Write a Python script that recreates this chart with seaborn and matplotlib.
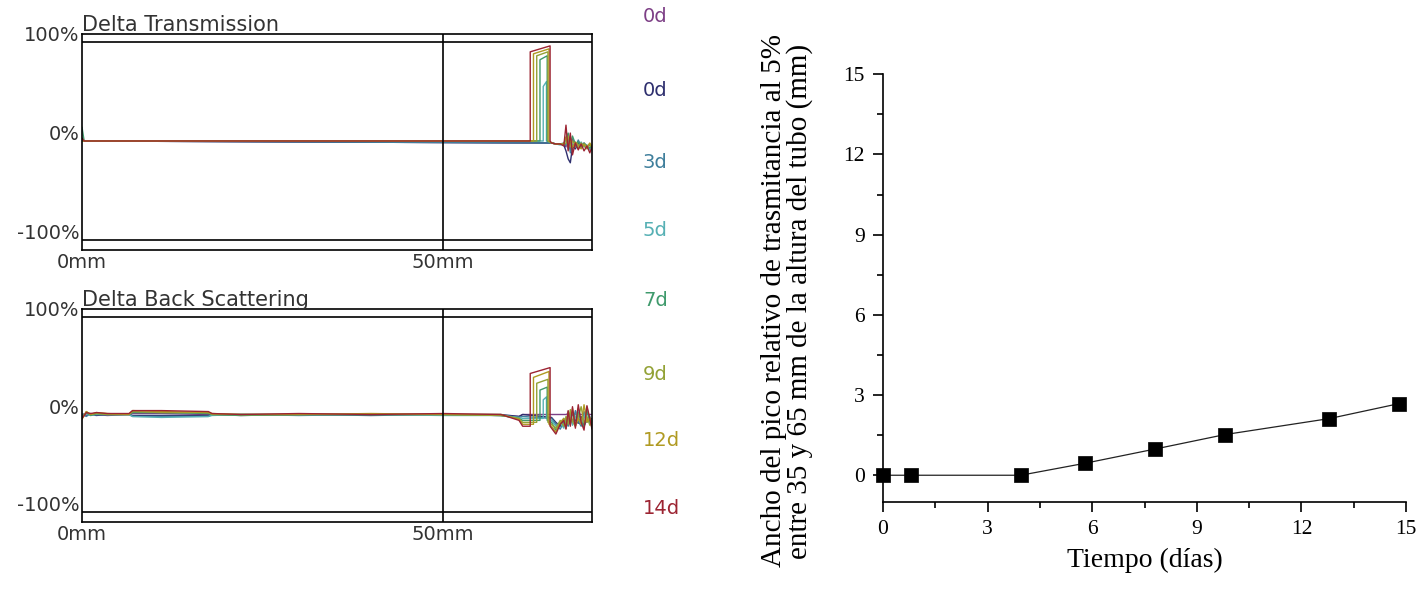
import matplotlib
matplotlib.use("Agg")
import matplotlib.pyplot as plt
import seaborn as sns
from matplotlib.ticker import MultipleLocator
from matplotlib.transforms import ScaledTranslation

# ── Turbiscan profiles (left) ────────────────────────────────────────────
days = ["0d", "0d", "3d", "5d", "7d", "9d", "12d", "14d"]
day_colors = ["#7d3f86", "#2e2f6e", "#3f7f9c", "#56b0b4",
              "#3f9a6c", "#93a236", "#b09a22", "#9c2432"]

# value at 0 mm (small spike at the tube bottom)
dt_start = [0, 0, 0, 0, 14, 0, 0, 3]

# peak edges (mm) and heights (%) near the top of the tube
peak_left = [None, None, None, 63.85, 63.4, 62.95, 62.5, 62.05]
peak_right = [None, None, None, 64.3, 64.4, 64.5, 64.65, 64.8]
dt_top_left = [0, 0, 0, 55, 82, 86, 88, 90]
dt_top_right = [0, 0, 0, 60, 86, 90, 93, 96]
bs_top_left = [0, 0, 0, 15, 25, 32, 38, 42]
bs_top_right = [0, 0, 0, 18, 28, 36, 44, 48]
bs_dip = [0, 0, -2, -4, -6, -8, -10, -12]

tail_x = [65.0, 65.6, 66.2, 66.7, 67.0, 67.3, 67.6, 67.9,
          68.3, 68.7, 69.1, 69.5, 69.9, 70.3, 70.6]
dt_tail = [
    [-2, -3, -3, -3, -6, 4, -8, 2, -5, -3, -7, -2, -6, -4, -9],
    [-2, -3, -3, -4, -10, -18, -22, -6, -8, -2, -6, -3, -5, -8, -6],
    [-2, -3, -3, -2, -4, 6, -12, -3, -6, 1, -5, -4, -7, -3, -8],
    [-2, -3, -4, -3, 2, -8, 3, -6, -2, -5, -1, -6, -4, -9, -5],
    [-2, -3, -3, -3, 3, 8, -4, 5, -3, -1, -6, -2, -5, -7, -4],
    [-2, -3, -3, -4, -2, 5, -6, 0, -4, -7, -2, -5, -8, -3, -6],
    [-2, -3, -3, -3, 4, -5, 2, -7, -1, -4, -8, -3, -6, -2, -7],
    [-2, -3, -3, -5, 16, -10, 8, -14, -2, -9, -3, -10, -5, -12, -6],
]

bs_front_x = [0, 0.6, 1.2, 2.0, 3.5, 6.5, 7.0, 11.0,
              17.5, 18.0, 22.0, 30.0, 40.0, 50.0, 58.0, 60.5]
bs_front = [
    [0, -1, 1, 0, -1, 0, 1, 1, 0, 0, -1, 0, 0, 0, -1, -2],
    [0, 1, 0, -1, 0, 0, -1, -1, -1, 0, 0, 0, -1, 0, 0, -2],
    [0, -2, 1, 0, 0, 0, -2, -2, -2, 0, 0, -1, 0, 0, -1, -3],
    [-2, 1, -1, 0, 0, 0, -2, -3, -2, -1, 0, 0, 0, -1, -1, -3],
    [-3, 2, -1, 1, 0, 0, 2, 2, 1, 0, -1, 0, 0, 0, -1, -4],
    [-4, 3, 0, 1, 0, 0, 3, 2, 2, 0, 0, 0, 0, 0, -1, -4],
    [-5, 3, 0, 2, 1, 0, 4, 3, 2, 1, 0, 0, 1, 0, 0, -5],
    [-4, 2, 1, 2, 1, 1, 4, 4, 3, 1, 0, 1, 0, 1, 0, -6],
]
bs_tail = [
    [0, 0, 0, 0, 0, 1, 0, 0, 0, 1, 0, 0, 0, 0, 0],
    [-3, -8, -12, -5, -14, -4, -10, 2, -6, -9, -2, -12, -5, -8, -4],
    [-4, -10, -15, -8, -6, -12, -3, -9, 4, -7, -12, 3, -8, -2, -10],
    [-6, -12, -8, -14, -4, -9, 2, -11, -3, 6, -10, -4, 8, -9, -5],
    [-8, -16, -10, -4, -12, 3, -8, -5, -11, 2, -6, -13, 4, -7, -12],
    [-10, -14, -6, -12, -2, -10, 5, -7, -12, -3, 8, -9, -2, -11, -6],
    [-12, -18, -8, -4, -14, 2, -9, 6, -12, -4, -10, 10, -8, -3, -14],
    [-14, -20, -10, -6, -15, 4, -12, 8, -14, 10, -8, -16, 9, -4, -15],
]

# ── Peak width vs time (right) ───────────────────────────────────────────
tiempo = [0, 0.8, 3.95, 5.8, 7.8, 9.8, 12.8, 14.8]
ancho = [0, 0, 0, 0.45, 0.98, 1.52, 2.12, 2.68]


def dt_curve(i):
    xs, ys = [0, 0.3], [dt_start[i], 0]
    if peak_left[i] is not None:
        xs += [peak_left[i], peak_left[i], peak_right[i], peak_right[i]]
        ys += [0, dt_top_left[i], dt_top_right[i], 0]
    return xs + tail_x, ys + dt_tail[i]


def bs_curve(i):
    xs, ys = list(bs_front_x), list(bs_front[i])
    xs.append(61.0)
    ys.append(bs_dip[i])
    if peak_left[i] is not None:
        xs += [peak_left[i], peak_left[i], peak_right[i], peak_right[i]]
        ys += [bs_dip[i], bs_top_left[i], bs_top_right[i], bs_dip[i]]
    return xs + tail_x, ys + bs_tail[i]


sns.set_theme(style="white")
plt.rcParams["font.family"] = ["DejaVu Sans"]

fig = plt.figure(figsize=(14.21, 5.90), dpi=100)
ax_dt = fig.add_axes([0.0577, 0.5763, 0.3589, 0.3661])
ax_bs = fig.add_axes([0.0577, 0.1153, 0.3589, 0.3610])
ax_w = fig.add_axes([0.6214, 0.1492, 0.3681, 0.7249])

grey = "#333333"
for ax, title, builder in [(ax_dt, "Delta Transmission", dt_curve),
                           (ax_bs, "Delta Back Scattering", bs_curve)]:
    for i in range(len(days)):
        xs, ys = builder(i)
        sns.lineplot(x=xs, y=ys, ax=ax, color=day_colors[i], lw=1.0,
                     sort=False, estimator=None)
    ax.axhline(100, color="black", lw=1.2)
    ax.axhline(-100, color="black", lw=1.2)
    ax.axvline(50, color="black", lw=1.2)
    ax.set_xlim(0, 70.6)
    ax.set_ylim(-110, 108)
    for s in ax.spines.values():
        s.set_visible(True)
        s.set_color("black")
        s.set_linewidth(1.2)
    ax.set_yticks([100, 0, -100], ["100%", "0%", "-100%"])
    ax.set_xticks([0, 50], ["0mm", "50mm"])
    ax.tick_params(length=0, labelsize=14, colors=grey, pad=2)
    for lab in ax.get_yticklabels():
        lab.set_transform(lab.get_transform()
                          + ScaledTranslation(0, 6 / 72, fig.dpi_scale_trans))
    ax.set_title(title, loc="left", fontsize=15, color=grey, pad=2)

label_y = [17, 91, 162, 230, 300, 374, 440, 509]
for name, col, yp in zip(days, day_colors, label_y):
    fig.text(643 / 1421, 1 - yp / 590, name, color=col, fontsize=14,
             ha="left", va="center")

# right panel
serif = ["Liberation Serif", "DejaVu Serif"]
sns.lineplot(x=tiempo, y=ancho, ax=ax_w, color="#222222", lw=0.9,
             estimator=None)
sns.scatterplot(x=tiempo, y=ancho, ax=ax_w, marker="s", s=95,
                color="black", edgecolor="black", linewidth=0.5,
                clip_on=False, zorder=5)
ax_w.set_xlim(0, 15)
ax_w.set_ylim(-1, 15)
ax_w.xaxis.set_major_locator(MultipleLocator(3))
ax_w.xaxis.set_minor_locator(MultipleLocator(1.5))
ax_w.yaxis.set_major_locator(MultipleLocator(3))
ax_w.yaxis.set_minor_locator(MultipleLocator(1.5))
ax_w.spines["top"].set_visible(False)
ax_w.spines["right"].set_visible(False)
for side in ["left", "bottom"]:
    ax_w.spines[side].set_color("black")
    ax_w.spines[side].set_linewidth(1.2)
ax_w.tick_params(which="major", direction="out", length=7, width=1.2,
                 color="black", labelcolor="black", labelsize=15.5,
                 pad=6, left=True, bottom=True)
ax_w.tick_params(which="minor", direction="out", length=4, width=1.2,
                 color="black", left=True, bottom=True)
for lab in ax_w.get_xticklabels() + ax_w.get_yticklabels():
    lab.set_family(serif)
ax_w.set_xlabel("Tiempo (días)", fontsize=20, family=serif, color="black",
                labelpad=6)
ax_w.set_ylabel("Ancho del pico relativo de trasmitancia al 5%\n"
                "entre 35 y 65 mm de la altura del tubo (mm)",
                fontsize=21, family=serif, color="black", linespacing=1.0)
ax_w.yaxis.set_label_coords(-0.133, 0.47)

fig.savefig("out.png", dpi=100)
plt.close(fig)
